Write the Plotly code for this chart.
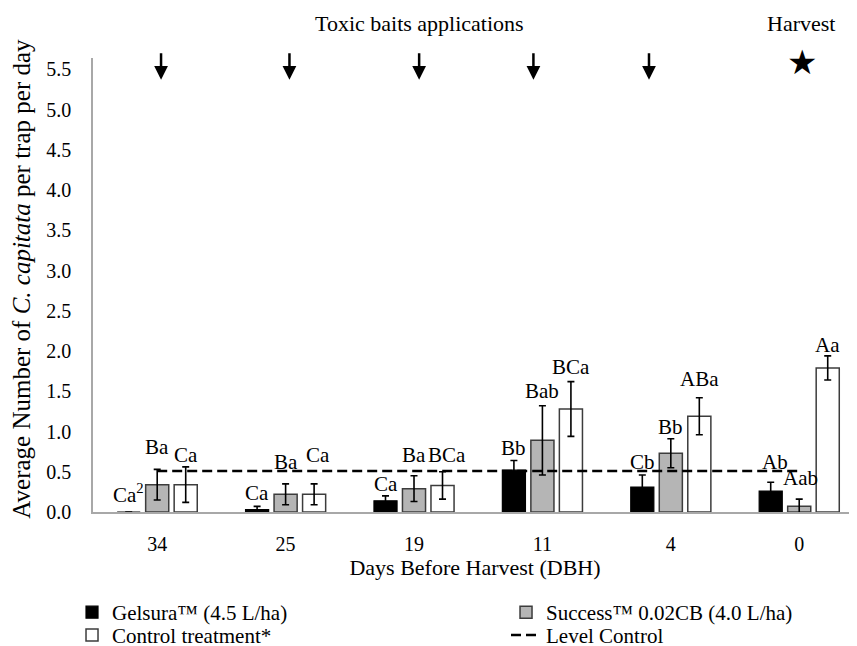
import plotly.graph_objects as go

# ---------------- data ----------------
dbh = ["34", "25", "19", "11", "4", "0"]
gelsura = [0.0, 0.03, 0.14, 0.52, 0.31, 0.26]
gelsura_err = [0.0, 0.04, 0.06, 0.12, 0.15, 0.11]
success = [0.34, 0.22, 0.29, 0.89, 0.73, 0.07]
success_err = [0.19, 0.13, 0.16, 0.43, 0.18, 0.09]
control = [0.34, 0.22, 0.33, 1.28, 1.19, 1.79]
control_err = [0.22, 0.13, 0.17, 0.34, 0.23, 0.15]
level_control = 0.51

gelsura_lbl = ["Ca<sup>2</sup>", "Ca", "Ca", "Bb", "Cb", "Ab"]
success_lbl = ["Ba", "Ba", "Ba", "Bab", "Bb", "Aab"]
control_lbl = ["Ca", "Ca", "BCa", "BCa", "ABa", "Aa"]

y_ticks = [0.0, 0.5, 1.0, 1.5, 2.0, 2.5, 3.0, 3.5, 4.0, 4.5, 5.0, 5.5]

# ---------------- styling / placement (pixels, not data) ----------------
gelsura_dy = [3, -1, -2, -2, -1, 6]
success_dy = [8, 8, 7, 1, -2, 7]
control_dy = [-2, 15, 3, 1, 5, -3]
gelsura_dx = [0, 0, 0, 0, 0, 4]
success_dx = [0, 0, 0, 0, 0, 1]
control_dx = [0, 4, 4, 0, 0, 0]

arrow_x = [0.03, 1.03, 2.04, 2.93, 3.83]
star_x = 5.02

FONT = 'Liberation Serif, "Times New Roman", Tinos, "DejaVu Serif", serif'
W, H = 849, 638   # page adds an 8px body margin
xs = list(range(len(dbh)))

fig = go.Figure()

err_style = dict(type="data", color="black", thickness=1.6, width=3.5)

fig.add_trace(go.Bar(
    x=xs, y=gelsura, name="Gelsura™ (4.5 L/ha)",
    marker=dict(color="black", line=dict(color="black", width=1.2)),
    error_y=dict(array=gelsura_err, **err_style), legend="legend",
))
fig.add_trace(go.Bar(
    x=xs, y=success, name="Success™ 0.02CB (4.0 L/ha)",
    marker=dict(color="#b5b5b5", line=dict(color="#3c3c3c", width=1.5)),
    error_y=dict(array=success_err, **err_style), legend="legend2",
))
fig.add_trace(go.Bar(
    x=xs, y=control, name="Control treatment*",
    marker=dict(color="white", line=dict(color="#3c3c3c", width=1.5)),
    error_y=dict(array=control_err, **err_style), legend="legend3",
))
fig.add_trace(go.Scatter(
    x=[xs[0], xs[-1]], y=[level_control, level_control], name="Level Control",
    mode="lines", line=dict(color="black", width=2.5, dash="10px,5px"), legend="legend4",
))

# significance letters
pitch = 0.222
annots = []
series = [(gelsura, gelsura_err, gelsura_lbl, gelsura_dx, gelsura_dy),
          (success, success_err, success_lbl, success_dx, success_dy),
          (control, control_err, control_lbl, control_dx, control_dy)]
for k, (vals, errs, lbls, dxs, dys) in enumerate(series):
    for i in xs:
        annots.append(dict(
            x=i + (k - 1) * pitch, y=vals[i] + errs[i], xref="x", yref="y",
            text=lbls[i], showarrow=False, yanchor="bottom", xanchor="center",
            xshift=dxs[i], yshift=dys[i],
            font=dict(family=FONT, size=21, color="black"),
        ))

# application arrows
for ax_ in arrow_x:
    annots.append(dict(
        x=ax_, y=5.37, xref="x", yref="y", text="", showarrow=True,
        ax=0, ay=-28, arrowhead=2, arrowsize=1.1, arrowwidth=2.5, arrowcolor="black",
    ))
annots.append(dict(
    x=star_x, y=5.59, xref="x", yref="y", text="★", showarrow=False,
    font=dict(family="DejaVu Sans", size=34, color="black"),
))
annots.append(dict(
    x=0.428, y=1.075, xref="paper", yref="paper", text="Toxic baits applications",
    showarrow=False, xanchor="center", yanchor="middle",
    font=dict(family=FONT, size=22, color="black"),
))
annots.append(dict(
    x=0.9267, y=1.075, xref="paper", yref="paper", text="Harvest",
    showarrow=False, xanchor="center", yanchor="middle",
    font=dict(family=FONT, size=22, color="black"),
))
# y-axis title
annots.append(dict(
    x=-0.0929, y=0.514, xref="paper", yref="paper", textangle=-90,
    text="Average Number of <i>C. capitata</i> per trap per day",
    showarrow=False, xanchor="center", yanchor="middle",
    font=dict(family=FONT, size=25, color="black"),
))


def leg(x, y):
    return dict(
        xref="container", yref="container", x=x, y=y,
        xanchor="left", yanchor="top", orientation="v",
        font=dict(family=FONT, size=21, color="black"),
        bgcolor="rgba(0,0,0,0)", itemwidth=30, visible=True,
    )


fig.update_layout(
    width=W, height=H,
    margin=dict(l=85, r=0, t=50, b=134, autoexpand=False),
    paper_bgcolor="white", plot_bgcolor="white",
    font=dict(family=FONT, size=20, color="black"),
    barmode="group", bargap=0.334, bargroupgap=0.19,
    showlegend=True,
    annotations=annots,
    legend=leg(0.0754, 0.0846),
    legend2=leg(0.5866, 0.0846),
    legend3=leg(0.0754, 0.049),
    legend4=leg(0.5866, 0.049),
)

fig.update_xaxes(
    range=[-0.5, 5.45], tickvals=xs, ticktext=dbh,
    showline=True, linecolor="#a8a8a8", linewidth=1.5,
    showgrid=False, zeroline=False, ticks="",
    tickfont=dict(family=FONT, size=20, color="black"),
    ticklabelstandoff=13,
    title=dict(text="Days Before Harvest (DBH)", font=dict(family=FONT, size=22, color="black"),
               standoff=6),
)
fig.update_yaxes(
    range=[0, 5.64], tickvals=y_ticks, ticktext=[f"{v:.1f}" for v in y_ticks],
    showline=True, linecolor="#a8a8a8", linewidth=1.5,
    showgrid=False, zeroline=False,
    ticks="outside", ticklen=16, tickcolor="rgba(0,0,0,0)",
    tickfont=dict(family=FONT, size=20, color="black"),
)

fig.write_html("out.html")
